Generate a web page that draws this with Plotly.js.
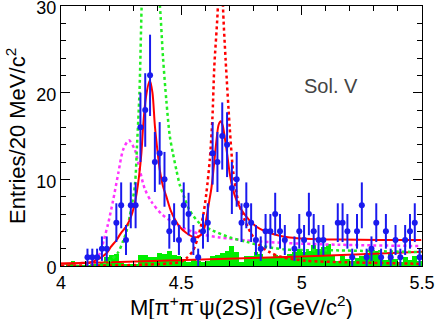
<!DOCTYPE html>
<html>
<head>
<meta charset="utf-8">
<script src="https://cdn.plot.ly/plotly-3.0.1.min.js"></script>
<style>html,body{margin:0;padding:0;background:#fff;}#chart{width:436px;height:319px;}</style>
</head>
<body>
<div id="chart"></div>
<script>
// Bin centers: 75 bins of 20 MeV from 4.0 to 5.5 GeV/c^2
var binLow = 4.0;
var binWidth = 0.02;
var nBins = 75;

// Data counts per bin (0 = not drawn)
var dataCounts = [0,0,0,0,0, 1,1,1,2,2, 0,5,7,3,7, 7,16,18,22,12,
                  13,10,4,5,3, 7,6,3,1,4, 5,13,12,15,14, 9,10,5,7,5,
                  3,2,4,4,6, 4,3,0,2,4, 3,6,4,3,3, 0,0,5,5,4,
                  1,4,7,1,2, 5,1,4,1,3, 1,3,4,5,1];

// Scaled sideband background (green histogram)
var sidebandCounts = [0,0.3,0.55,0.15,0.15, 0.15,0.2,0.2,0.35,1.08, 1.27,1.39,0.3,0.2,0.2,
                      0.2,1.31,1.31,1.04,1.0, 1.5,1.35,1.74,1.27,1.2, 0.81,0.5,0.81,0.62,0.42,
                      0.62,1.12,1.27,1.5,1.7, 2.35,1.66,0.5,1.2,1.12, 1.58,1.35,1.0,0.93,1.27,
                      1.12,1.0,1.35,1.66,1.97, 1.58,1.78,2.43,1.97,2.16, 2.59,1.2,0.62,1.2,0.81,
                      0.62,0.9,1.2,1.5,1.97, 1.78,1.2,0.73,1.39,0.81, 0.5,1.0,0.73,1.2,0.62];

// Total fit (red solid)
var totalX = [4.000,4.079,4.133,4.162,4.190,4.207,4.231,4.249,4.272,4.290,4.303,4.315,4.324,4.334,4.341,4.353,4.369,4.380,4.390,4.402,4.411,4.423,4.438,4.456,4.477,4.494,4.521,4.549,4.569,4.590,4.604,4.616,4.625,4.635,4.646,4.655,4.664,4.672,4.680,4.691,4.701,4.713,4.729,4.747,4.770,4.796,4.825,4.867,4.908,4.950,5.019,5.157,5.323,5.497];
var totalY = [0.3,0.35,0.5,0.9,1.5,2.2,3.0,3.8,4.6,5.6,6.8,8.5,10.3,13,16,19.5,21.4,20,16.2,13,11,9.3,8,6.4,5.2,4.5,3.8,3.35,3.35,3.9,5.5,7.5,9,11.5,14.5,16.3,16.7,16.2,14.9,12.8,10.7,9,7.6,6.6,5.7,4.9,4.3,3.8,3.5,3.3,3.15,3.05,3.0,3.0];

// Background (red solid, lower)
var bkgX = [4.0,4.25,4.5,4.75,5.0,5.25,5.5];
var bkgY = [0.25,0.45,0.65,0.85,1.1,1.35,1.65];

// Magenta dashed component
var magX = [4.0,4.10,4.120,4.141,4.162,4.178,4.195,4.216,4.238,4.258,4.282,4.307,4.328,4.348,4.376,4.418,4.473,4.514,4.577,4.659,4.770,4.936,5.157,5.497];
var magY = [0,0.05,0.1,0.5,1.5,3,4.8,7.5,10.7,13.4,14.5,13.4,11,8.9,7.4,6,4.9,4.3,3.7,3.3,2.95,2.65,2.45,2.3];

// Green dashed component
var grnX = [4.0,4.10,4.190,4.212,4.238,4.257,4.272,4.286,4.307,4.316,4.326,4.335,4.345,4.360,4.380,4.400,4.411,4.424,4.438,4.452,4.465,4.480,4.494,4.514,4.535,4.577,4.630,4.701,4.770,4.838,4.937,5.157,5.497];
var grnY = [0,0.05,0.3,0.8,1.6,2.8,4,5.8,9.3,14,20,30,40,46,40,33,30,24,19,15,13,11,9.3,7.8,6.4,4.9,4.1,3.3,2.8,2.3,1.9,1.8,1.6];

// Red dashed component
var rdX = [4.0,4.340,4.494,4.521,4.549,4.569,4.590,4.604,4.618,4.629,4.637,4.652,4.658,4.664,4.668,4.673,4.684,4.701,4.715,4.735,4.763,4.791,4.825,4.867,4.922,5.019,5.157,5.497];
var rdY = [0,0.15,0.45,0.9,1.8,3.3,5.7,8.4,12.2,17,23,30,40,44,40,30,23.8,16,11,7.6,5.3,3.7,2.4,1.6,1.0,0.6,0.45,0.25];

var xTickVals = [4, 4.5, 5, 5.5];
var xTickText = ['4', '4.5', '5', '5.5'];
var yTickVals = [0, 10, 20, 30];
var yTickText = ['0', '10', '20', '30'];

var binCenters = [];
for (var i = 0; i < nBins; i++) binCenters.push(+(binLow + binWidth * (i + 0.5)).toFixed(3));

var ptX = [], ptY = [], ptE = [];
for (var j = 0; j < nBins; j++) {
  if (dataCounts[j] > 0) { ptX.push(binCenters[j]); ptY.push(dataCounts[j]); ptE.push(Math.sqrt(dataCounts[j])); }
}

var dashStyle = '3px,3px';
var traces = [
  {type:'bar', x: binCenters, y: sidebandCounts, width: binWidth, marker:{color:'#00ee00', line:{width:0}}, hoverinfo:'skip'},
  {type:'scatter', mode:'lines', x: bkgX, y: bkgY, line:{color:'#ff0000', width:2}},
  {type:'scatter', mode:'lines', x: magX, y: magY, line:{color:'#ff33ff', width:2.5, dash: dashStyle, shape:'spline', smoothing:0.8}},
  {type:'scatter', mode:'lines', x: grnX, y: grnY, line:{color:'#22ee22', width:2.5, dash: dashStyle, shape:'spline', smoothing:0.8}},
  {type:'scatter', mode:'lines', x: rdX, y: rdY, line:{color:'#ff0000', width:2.5, dash: dashStyle, shape:'spline', smoothing:0.8}},
  {type:'scatter', mode:'lines', x: totalX, y: totalY, line:{color:'#ff0000', width:2, shape:'spline', smoothing:0.8}},
  {type:'scatter', mode:'markers', x: ptX, y: ptY,
   error_y:{type:'data', array: ptE, visible:true, color:'#1a1aee', thickness:2, width:0},
   marker:{color:'#1a1aee', size:6, symbol:'circle'}}
];

var fam = 'Liberation Sans, Arial, sans-serif';
var axisFont = {family: fam, size:18, color:'#000'};
var layout = {
  width: 436, height: 319,
  margin: {l:61, r:14, t:6, b:53},
  paper_bgcolor:'#fff', plot_bgcolor:'#fff',
  showlegend:false,
  barmode:'overlay', bargap:0,
  xaxis: {
    range:[4, 5.5], tickvals: xTickVals, ticktext: xTickText,
    ticks:'inside', ticklen:9, tickwidth:1, tickcolor:'#000',
    minor:{dtick:0.1, ticks:'inside', ticklen:5, tickcolor:'#000', showgrid:false},
    showline:true, linecolor:'#000', linewidth:1, mirror:'allticks',
    showgrid:false, zeroline:false, tickfont: axisFont, ticklabelstandoff:0,
    ticklabeloverflow:'allow'
  },
  yaxis: {
    range:[0, 30], tickvals: yTickVals, ticktext: yTickText,
    ticks:'inside', ticklen:9, tickwidth:1, tickcolor:'#000',
    minor:{dtick:2, ticks:'inside', ticklen:5, tickcolor:'#000', showgrid:false},
    showline:true, linecolor:'#000', linewidth:1, mirror:'allticks',
    showgrid:false, zeroline:false, tickfont: axisFont, ticklabelshift:2,
    ticklabeloverflow:'allow'
  },
  annotations: [
    {text:'Sol. V', xref:'paper', yref:'paper', x:0.668, y:0.692, xanchor:'left', yanchor:'middle', showarrow:false,
     font:{family: fam, size:20, color:'#444'}},
    {text:'M[π<sup>+</sup>π<sup>-</sup>ψ(2S)] (GeV/c<sup>2</sup>)', xref:'paper', yref:'paper', x:0.5, y:-0.155,
     xanchor:'center', yanchor:'middle', showarrow:false, font:{family: fam, size:22, color:'#000'}},
    {text:'Entries/20 MeV/c<sup>2</sup>', xref:'paper', yref:'paper', x:-0.125, y:0.5, textangle:-90,
     xanchor:'center', yanchor:'middle', showarrow:false, font:{family: fam, size:22, color:'#000'}}
  ]
};

Plotly.newPlot('chart', traces, layout, {displayModeBar:false, staticPlot:true});
</script>
</body>
</html>
